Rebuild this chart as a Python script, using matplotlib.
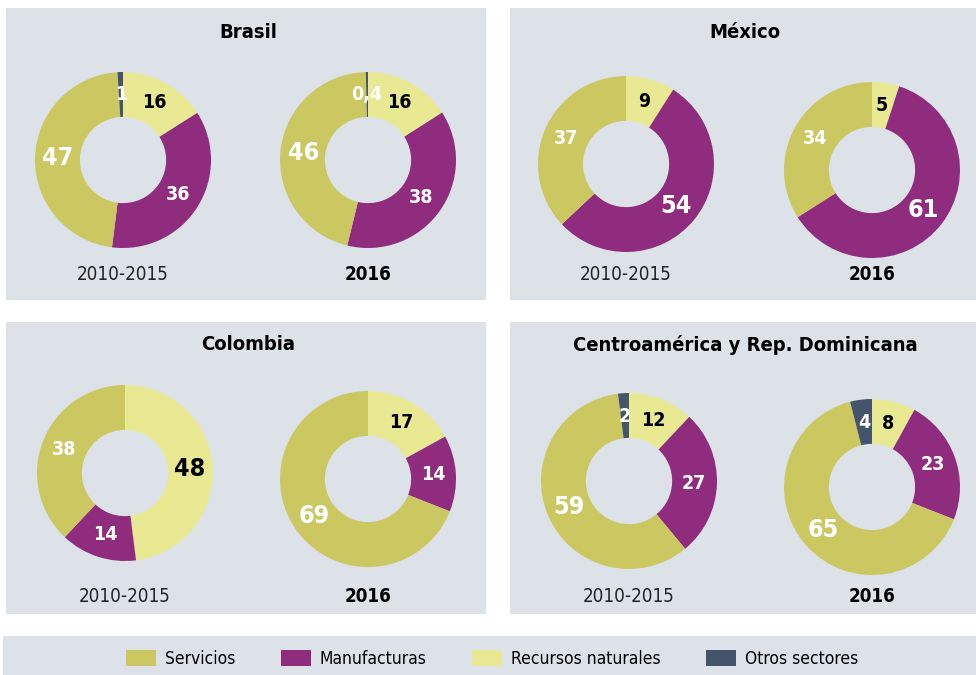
import numpy as np
import matplotlib.pyplot as plt
from matplotlib.patches import Rectangle, Patch

plt.rcParams['font.family'] = ['DejaVu Sans']
plt.rcParams['font.stretch'] = 'condensed'

# sectors, drawn clockwise from 12 o'clock
sectors = ['Recursos naturales', 'Manufacturas', 'Servicios', 'Otros sectores']
colors = ['#eae993', '#8f2c7e', '#cbc862', '#44546a']
text_colors = ['black', 'white', 'white', 'white']

countries = ['Brasil', 'México', 'Colombia', 'Centroamérica y Rep. Dominicana']
periods = ['2010-2015', '2016']

brasil = [[16, 36, 47, 1], [16, 38, 46, 0.4]]
mexico = [[9, 54, 37, 0], [5, 61, 34, 0]]
colombia = [[48, 14, 38, 0], [17, 14, 69, 0]]
centroamerica = [[12, 27, 59, 2], [8, 23, 65, 4]]
data = [brasil, mexico, colombia, centroamerica]

legend_order = [2, 1, 0, 3]

W, H = 976, 675
fig = plt.figure(figsize=(W / 100, H / 100), dpi=100)
bg = '#dde2e9'

def fx(px):
    return px / W

def fy(py):
    return 1 - py / H

# panel boxes (left, top, right, bottom) in pixels
panels = [(6, 8, 486, 300), (510, 8, 976, 300), (6, 322, 486, 614), (510, 322, 976, 614)]
title_y = [32, 32, 345, 345]
centers = [[(123, 160), (368, 160)], [(626, 164), (872, 170)],
           [(125, 473), (368, 479)], [(629, 481), (872, 487)]]
sub_y = [[275, 275], [275, 275], [597, 597], [596, 596]]
R = 88

for i, (x0, y0, x1, y1) in enumerate(panels):
    fig.patches.append(Rectangle((fx(x0), fy(y1)), (x1 - x0) / W, (y1 - y0) / H,
                                 transform=fig.transFigure, facecolor=bg, edgecolor='none', zorder=-5))
    fig.text(fx((x0 + x1) / 2 + 2), fy(title_y[i]), countries[i], ha='center', va='center',
             fontsize=14.5, fontweight='bold')
    for j in range(2):
        vals = data[i][j]
        cx, cy = centers[i][j]
        ax = fig.add_axes([fx(cx - R), fy(cy + R), 2 * R / W, 2 * R / H])
        ax.pie(vals, colors=colors, startangle=90, counterclock=False, radius=1,
               wedgeprops=dict(width=0.51, linewidth=0))
        ax.set_xlim(-1, 1)
        ax.set_ylim(-1, 1)
        ax.axis('off')
        total = sum(vals)
        cum = 0
        for k, v in enumerate(vals):
            if v == 0:
                continue
            mid = (cum + v / 2) / total
            cum += v
            ang = np.deg2rad(90 - 360 * mid)
            big = v == max(vals)
            ax.text(0.74 * np.cos(ang), 0.74 * np.sin(ang), f'{v:g}'.replace('.', ','),
                    ha='center', va='center', color=text_colors[k], fontweight='bold',
                    fontsize=18 if big else 14)
        fig.text(fx(cx), fy(sub_y[i][j]), periods[j], ha='center', va='center', fontsize=13.5,
                 fontweight='bold' if j == 1 else 'normal', color='#222222' if j == 0 else 'black')

# legend strip
fig.patches.append(Rectangle((fx(3), 0), (W - 3) / W, (H - 636) / H,
                             transform=fig.transFigure, facecolor=bg, edgecolor='none', zorder=-5))
handles = [Patch(facecolor=colors[k], edgecolor='none', label=sectors[k]) for k in legend_order]
fig.legend(handles=handles, ncol=4, loc='center', bbox_to_anchor=(fx(492), fy(659)),
           frameon=False, fontsize=12.5, handlelength=1.75, handleheight=1.0,
           handletextpad=0.5, columnspacing=2.6)

fig.savefig('out.png', dpi=100, facecolor='white')
